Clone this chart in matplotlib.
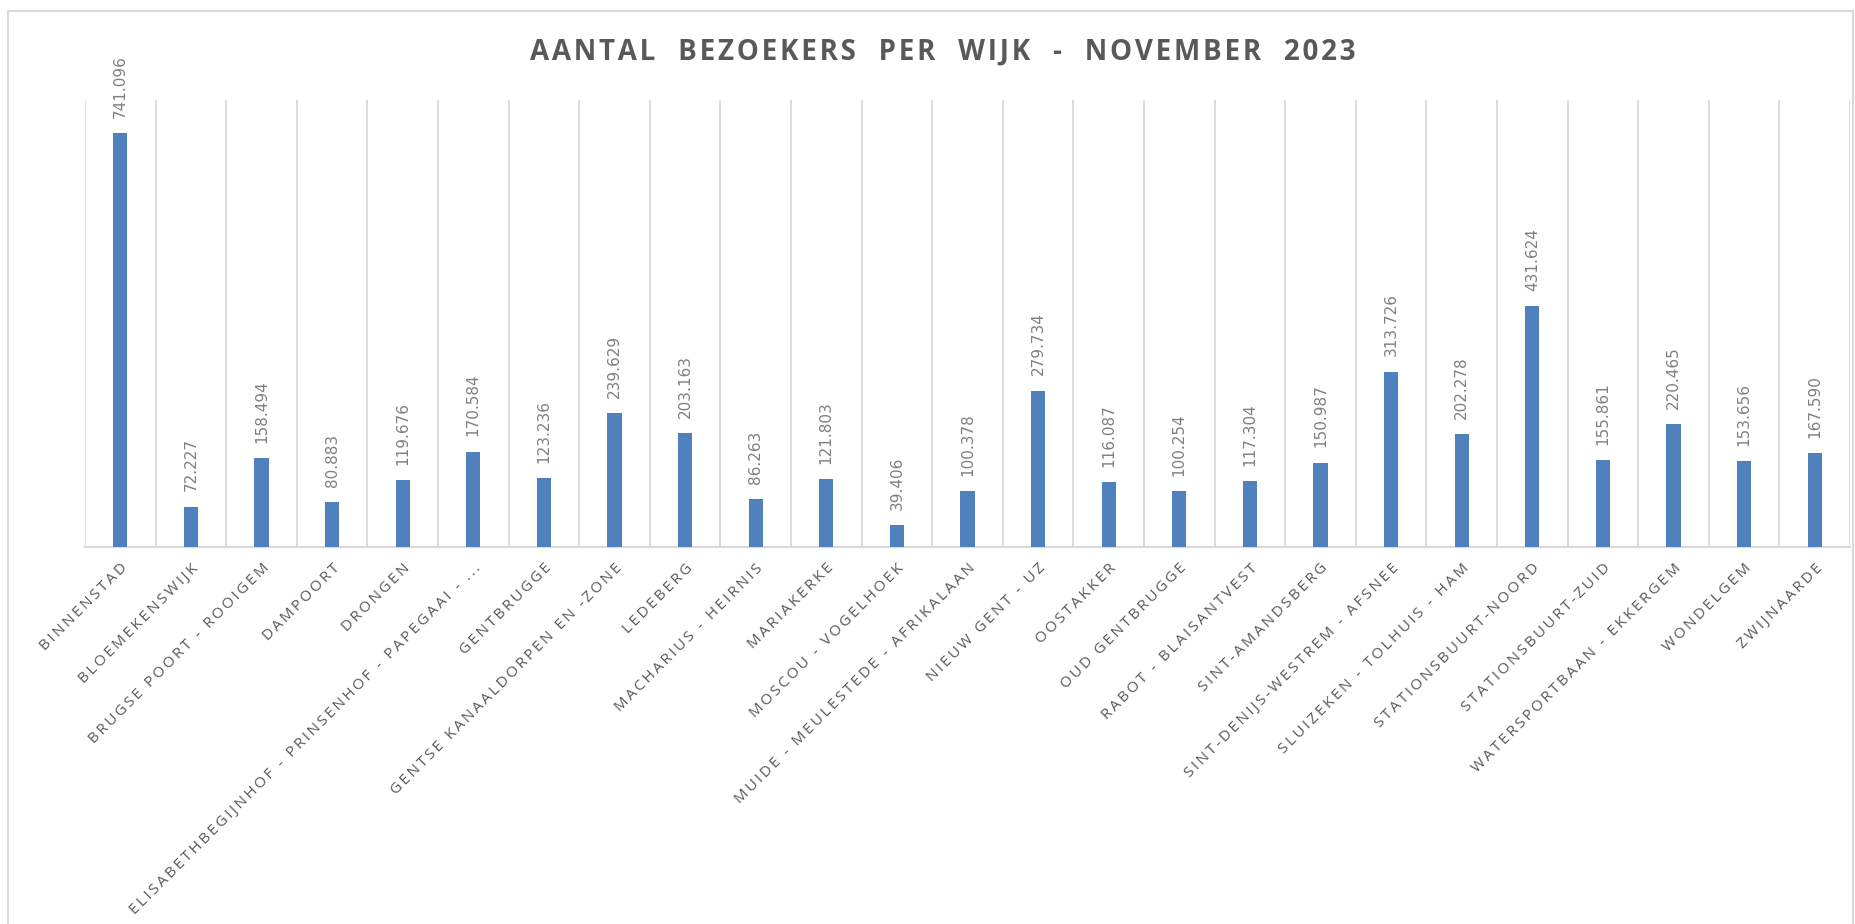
import matplotlib.pyplot as plt
from matplotlib.patches import Rectangle

# Visitors per district (Gent), November 2023
wijken = [
    "BINNENSTAD", "BLOEMEKENSWIJK", "BRUGSE POORT - ROOIGEM", "DAMPOORT", "DRONGEN",
    "ELISABETHBEGIJNHOF - PRINSENHOF - PAPEGAAI - ...", "GENTBRUGGE",
    "GENTSE KANAALDORPEN EN -ZONE", "LEDEBERG", "MACHARIUS - HEIRNIS", "MARIAKERKE",
    "MOSCOU - VOGELHOEK", "MUIDE - MEULESTEDE - AFRIKALAAN", "NIEUW GENT - UZ",
    "OOSTAKKER", "OUD GENTBRUGGE", "RABOT - BLAISANTVEST", "SINT-AMANDSBERG",
    "SINT-DENIJS-WESTREM - AFSNEE", "SLUIZEKEN - TOLHUIS - HAM", "STATIONSBUURT-NOORD",
    "STATIONSBUURT-ZUID", "WATERSPORTBAAN - EKKERGEM", "WONDELGEM", "ZWIJNAARDE",
]
bezoekers = [
    741096, 72227, 158494, 80883, 119676, 170584, 123236, 239629, 203163, 86263,
    121803, 39406, 100378, 279734, 116087, 100254, 117304, 150987, 313726, 202278,
    431624, 155861, 220465, 153656, 167590,
]
titel = "AANTAL  BEZOEKERS  PER  WIJK  -  NOVEMBER  2023"

bar_color = "#4F81BD"
grid_color = "#D9D9D9"


def spaced(s, sep="\u2009"):
    # Excel-like letter spacing
    return sep.join(s)


fig = plt.figure(figsize=(18.56, 9.24), dpi=100)
ax = fig.add_axes([85 / 1856, 1 - 547 / 924, 1765 / 1856, 447 / 924])

x = list(range(len(wijken)))
bars = ax.bar(x, bezoekers, width=0.2, color=bar_color, zorder=3)

ax.set_xlim(-0.5, len(wijken) - 0.5)
ax.set_ylim(0, 800000)

# vertical gridlines between categories
for b in range(len(wijken) + 1):
    ax.axvline(b - 0.5, color=grid_color, lw=1.3, zorder=1)

for s in ["top", "left", "right"]:
    ax.spines[s].set_visible(False)
ax.spines["bottom"].set_color(grid_color)
ax.spines["bottom"].set_linewidth(1.5)
ax.set_yticks([])

ax.set_xticks(x)
ax.set_xticklabels([spaced(w) for w in wijken], rotation=45, ha="right", va="top",
                   rotation_mode="anchor", fontsize=11, color="#595959",
                   family=["Open Sans", "DejaVu Sans"])
ax.tick_params(axis="x", length=0, pad=10)

# data labels above bars
for xi, v in zip(x, bezoekers):
    lab = f"{v:,}".replace(",", ".")
    ax.annotate(lab, (xi, v), xytext=(0, 11), textcoords="offset points",
                rotation=90, ha="center", va="bottom", fontsize=11, color="#808080",
                family=["Liberation Sans Narrow", "DejaVu Sans"])

fig.text(0.508, 1 - 52 / 924, spaced(titel, "\u200a"), ha="center", va="center",
         fontsize=20, fontweight="bold", color="#595959",
         family=["Open Sans", "DejaVu Sans"])

# chart border
fig.add_artist(Rectangle((8 / 1856, -0.1), 1845 / 1856, 1.1 - 11 / 924,
                         transform=fig.transFigure, fill=False,
                         edgecolor=grid_color, lw=1.5))

fig.savefig("out.png", dpi=100)
